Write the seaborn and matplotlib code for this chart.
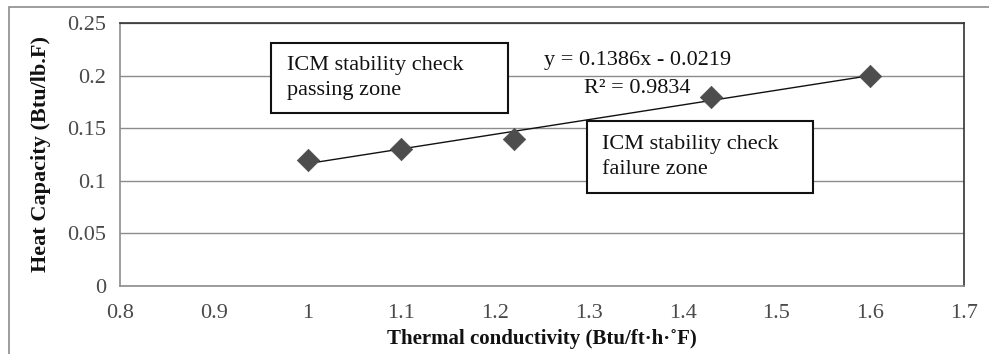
import matplotlib
matplotlib.use("Agg")
import matplotlib.pyplot as plt
import seaborn as sns
import pandas as pd
from matplotlib.patches import Rectangle

# Data
conductivity = [1.0, 1.1, 1.22, 1.43, 1.6]
heat_capacity = [0.12, 0.13, 0.14, 0.18, 0.2]
x_ticks = [0.8, 0.9, 1.0, 1.1, 1.2, 1.3, 1.4, 1.5, 1.6, 1.7]
x_tick_labels = ["0.8", "0.9", "1", "1.1", "1.2", "1.3", "1.4", "1.5", "1.6", "1.7"]
y_ticks = [0, 0.05, 0.1, 0.15, 0.2, 0.25]
y_tick_labels = ["0", "0.05", "0.1", "0.15", "0.2", "0.25"]
equation_text = "y = 0.1386x - 0.0219"
r2_text = "R\u00b2 = 0.9834"
pass_text = "ICM stability check\npassing zone"
fail_text = "ICM stability check\nfailure zone"

df = pd.DataFrame({"k": conductivity, "cp": heat_capacity})

sns.set_theme(style="white")
plt.rcParams["font.family"] = ["Liberation Serif", "DejaVu Serif"]

fig = plt.figure(figsize=(9.89, 3.54), dpi=100)
fig.patch.set_facecolor("white")
ax = fig.add_axes([120 / 989, 1 - 286 / 354, (964 - 120) / 989, (286 - 23) / 354])

# Figure border
fig.patches.append(Rectangle((9 / 989, -0.05), 1.2, 1 - 7 / 354 + 0.05,
                             transform=fig.transFigure, fill=False,
                             edgecolor="#8c8c8c", linewidth=1.2, zorder=0))

ax.set_xlim(0.8, 1.7)
ax.set_ylim(0, 0.25)
ax.yaxis.grid(True, color="#8c8c8c", linewidth=1.0)
ax.set_axisbelow(True)

sns.regplot(data=df, x="k", y="cp", scatter=False, ci=None, truncate=True,
            line_kws={"color": "#111111", "linewidth": 1.0}, ax=ax)
sns.scatterplot(data=df, x="k", y="cp", marker="D", s=130, color="#4d4d4d",
                edgecolor="#4d4d4d", linewidth=0.5, zorder=3, ax=ax)

ax.set_xticks(x_ticks)
ax.set_xticklabels(x_tick_labels)
ax.set_yticks(y_ticks)
ax.set_yticklabels(y_tick_labels)
ax.tick_params(axis="both", which="major", direction="out", length=6, width=1,
               color="#8c8c8c", labelsize=16, labelcolor="#4a4a4a", pad=7)
ax.tick_params(axis="y", pad=4)

for side in ["left", "bottom"]:
    ax.spines[side].set_color("#8c8c8c")
    ax.spines[side].set_linewidth(1.2)
for side in ["top", "right"]:
    ax.spines[side].set_color("#333333")
    ax.spines[side].set_linewidth(1.2)
    ax.spines[side].set_visible(True)

ax.set_xlabel("Thermal conductivity (Btu/ft\u00b7h\u00b7\u02daF)", fontsize=15,
              fontweight="bold", color="#111111")
ax.xaxis.set_label_coords(0.5, -(339 - 286) / 263, transform=ax.transAxes)
ax.xaxis.label.set_va("center")
ax.set_ylabel("Heat Capacity (Btu/lb.F)", fontsize=16, fontweight="bold",
              color="#111111")
ax.yaxis.set_label_coords(-(120 - 41) / 844, 0.5, transform=ax.transAxes)
ax.yaxis.label.set_va("center")

# Equation text
ax.text(1.352, 0.2139, equation_text, fontsize=16, color="#111111",
        ha="center", va="center", zorder=5)
ax.text(1.352, 0.1882, r2_text, fontsize=16, color="#111111",
        ha="center", va="center", zorder=5)

# Zone boxes
ax.add_patch(Rectangle((0.961, 0.1644), 1.2137 - 0.961, 0.2310 - 0.1644,
                       facecolor="white", edgecolor="#111111", linewidth=1.5, zorder=4))
ax.text(0.978, 0.1977, pass_text, fontsize=16, color="#111111", ha="left", va="center",
        linespacing=1.4, zorder=5)
ax.add_patch(Rectangle((1.298, 0.0884), 1.539 - 1.298, 0.1568 - 0.0884,
                       facecolor="white", edgecolor="#111111", linewidth=1.5, zorder=4))
ax.text(1.314, 0.1226, fail_text, fontsize=16, color="#111111", ha="left", va="center",
        linespacing=1.4, zorder=5)

fig.savefig("out.png", dpi=100, facecolor="white")
